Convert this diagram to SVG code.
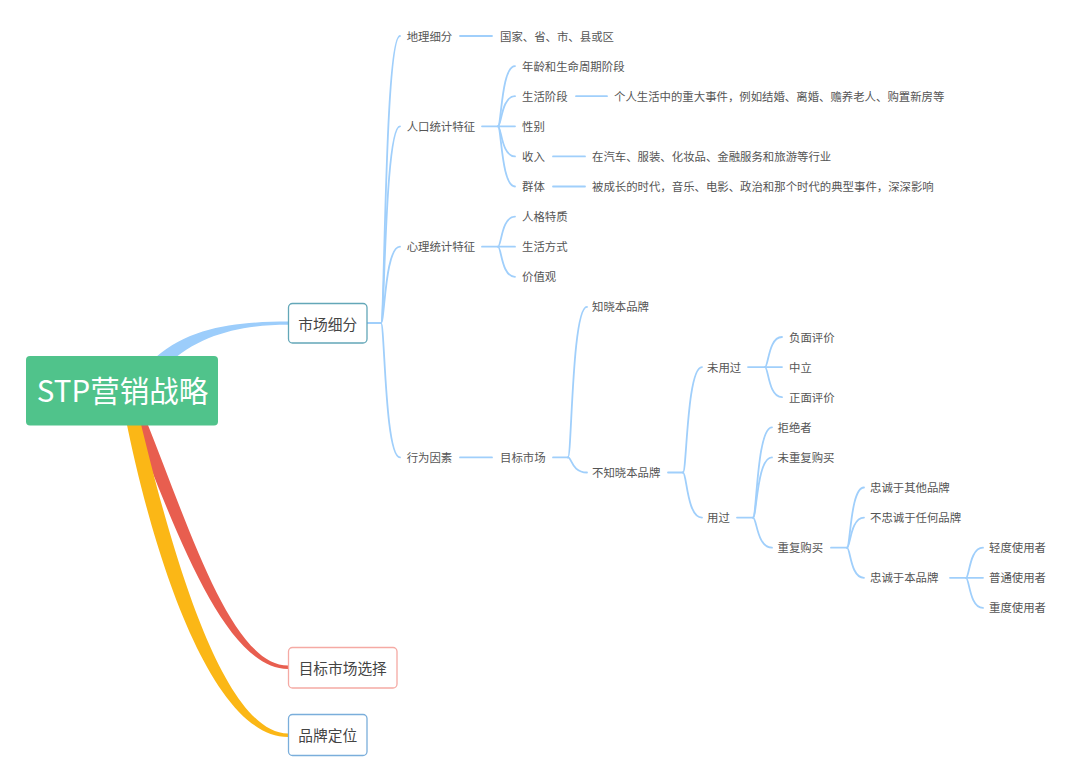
<svg xmlns="http://www.w3.org/2000/svg" width="1080" height="782" viewBox="0 0 1080 782">
<style>
.ln{fill:none;stroke:#a0cffb;stroke-width:1.8;stroke-linecap:round}
.t{font-family:"Noto Sans CJK SC","Microsoft YaHei",sans-serif;font-size:11.4px;fill:#555}
.nt{font-family:"Noto Sans CJK SC","Microsoft YaHei",sans-serif;font-size:14.7px;fill:#444}
.box{fill:#fff;stroke-width:1.3}
</style>
<rect width="1080" height="782" fill="#fff"/>
<g id="connectors">
  <path d="M156,357 C192,326 240,321.6 288,321.6 L288,324.8 C242,324.8 200,334 167,365 Z" fill="#9ccdfb"/>
  <path d="M146,420 C190,530 232,665.5 288,665.5 L288,669 C226,669 177,535 132,420 Z" fill="#e85e4f"/>
  <path d="M140,420 C169,540 221,733 288,733.5 L288,737 C209,737 151,545 126,420 Z" fill="#fbb716"/>
  <path class="ln" d="M367,323 H381"/>
  <path class="ln" d="M381,323 C384.8,323 384.8,36 400,36"/>
  <path class="ln" d="M381,323 C384.8,323 384.8,126.3 400,126.3"/>
  <path class="ln" d="M381,323 C384.8,323 384.8,246.7 400,246.7"/>
  <path class="ln" d="M381,323 C384.8,323 384.8,457.4 400,457.4"/>
  <path class="ln" d="M460,36 H492"/>
  <path class="ln" d="M482,126.3 H515"/>
  <path class="ln" d="M498,126.3 C501.4,126.3 501.4,66.1 515,66.1"/>
  <path class="ln" d="M498,126.3 C501.4,126.3 501.4,96.2 515,96.2"/>
  <path class="ln" d="M498,126.3 C501.4,126.3 501.4,156.4 515,156.4"/>
  <path class="ln" d="M498,126.3 C501.4,126.3 501.4,186.5 515,186.5"/>
  <path class="ln" d="M576,96.2 H607"/>
  <path class="ln" d="M553,156.4 H585"/>
  <path class="ln" d="M553,186.5 H585"/>
  <path class="ln" d="M482,246.7 H515"/>
  <path class="ln" d="M498,246.7 C501.4,246.7 501.4,216.6 515,216.6"/>
  <path class="ln" d="M498,246.7 C501.4,246.7 501.4,276.8 515,276.8"/>
  <path class="ln" d="M460,457.4 H492"/>
  <path class="ln" d="M553,457.4 H568"/>
  <path class="ln" d="M568,457.4 C571.8,457.4 571.8,306.9 587,306.9"/>
  <path class="ln" d="M568,457.4 C571.8,457.4 571.8,472.5 587,472.5"/>
  <path class="ln" d="M668,472.5 H683"/>
  <path class="ln" d="M683,472.5 C686.8,472.5 686.8,367.1 702,367.1"/>
  <path class="ln" d="M683,472.5 C686.8,472.5 686.8,517.6 702,517.6"/>
  <path class="ln" d="M748,367.1 H782"/>
  <path class="ln" d="M765,367.1 C768.4,367.1 768.4,337 782,337"/>
  <path class="ln" d="M765,367.1 C768.4,367.1 768.4,397.2 782,397.2"/>
  <path class="ln" d="M737,517.6 H753"/>
  <path class="ln" d="M753,517.6 C756.8,517.6 756.8,427.3 772,427.3"/>
  <path class="ln" d="M753,517.6 C756.8,517.6 756.8,457.4 772,457.4"/>
  <path class="ln" d="M753,517.6 C756.8,517.6 756.8,547.7 772,547.7"/>
  <path class="ln" d="M831,547.7 H847"/>
  <path class="ln" d="M847,547.7 C850.4,547.7 850.4,487.5 864,487.5"/>
  <path class="ln" d="M847,547.7 C850.4,547.7 850.4,517.6 864,517.6"/>
  <path class="ln" d="M847,547.7 C850.4,547.7 850.4,577.8 864,577.8"/>
  <path class="ln" d="M950,577.8 H983"/>
  <path class="ln" d="M966,577.8 C969.4,577.8 969.4,547.7 983,547.7"/>
  <path class="ln" d="M966,577.8 C969.4,577.8 969.4,607.9 983,607.9"/>
</g>
<g id="root">
  <rect x="26" y="356" width="192" height="69.5" rx="4" fill="#50c38b"/>
  <text x="122.5" y="401.5" text-anchor="middle" font-family="'Noto Sans CJK SC','Microsoft YaHei',sans-serif" font-size="29.5" fill="#fff">STP营销战略</text>
</g>
<g id="n-scxf">
  <rect class="box" x="288.5" y="303.5" width="78.5" height="39.5" rx="4" stroke="#63a7b8"/>
  <text class="nt" x="327.7" y="329.6" text-anchor="middle">市场细分</text>
</g>
<g id="n-mbscxz">
  <rect class="box" x="288.5" y="647.5" width="108.5" height="40.5" rx="4" stroke="#f5aaa4"/>
  <text class="nt" x="342.7" y="673.8" text-anchor="middle">目标市场选择</text>
</g>
<g id="n-ppdw">
  <rect class="box" x="288.5" y="714.5" width="78.5" height="41" rx="4" stroke="#7aaedb"/>
  <text class="nt" x="327.7" y="741.1" text-anchor="middle">品牌定位</text>
</g>
<g transform="translate(0,0.6)">
<g id="n-dlxf"><text class="t" x="406.7" y="40">地理细分</text></g>
<g id="n-gj"><text class="t" x="500" y="40">国家、省、市、县或区</text></g>
<g id="n-rk"><text class="t" x="406.7" y="130.3">人口统计特征</text></g>
<g id="n-nl"><text class="t" x="522" y="70.1">年龄和生命周期阶段</text></g>
<g id="n-shjd"><text class="t" x="522" y="100.2">生活阶段</text></g>
<g id="n-shjd-d"><text class="t" x="614" y="100.2">个人生活中的重大事件，例如结婚、离婚、赡养老人、购置新房等</text></g>
<g id="n-xb"><text class="t" x="522" y="130.3">性别</text></g>
<g id="n-sr"><text class="t" x="522" y="160.4">收入</text></g>
<g id="n-sr-d"><text class="t" x="592" y="160.4">在汽车、服装、化妆品、金融服务和旅游等行业</text></g>
<g id="n-qt"><text class="t" x="522" y="190.5">群体</text></g>
<g id="n-qt-d"><text class="t" x="592" y="190.5">被成长的时代，音乐、电影、政治和那个时代的典型事件，深深影响</text></g>
<g id="n-xl"><text class="t" x="406.7" y="250.7">心理统计特征</text></g>
<g id="n-rgtz"><text class="t" x="522" y="220.6">人格特质</text></g>
<g id="n-shfs"><text class="t" x="522" y="250.7">生活方式</text></g>
<g id="n-jzg"><text class="t" x="522" y="280.8">价值观</text></g>
<g id="n-xwys"><text class="t" x="406.7" y="461.4">行为因素</text></g>
<g id="n-mbsc"><text class="t" x="500" y="461.4">目标市场</text></g>
<g id="n-zx"><text class="t" x="592" y="310.9">知晓本品牌</text></g>
<g id="n-bzx"><text class="t" x="592" y="476.5">不知晓本品牌</text></g>
<g id="n-wyg"><text class="t" x="707" y="371.1">未用过</text></g>
<g id="n-fmpj"><text class="t" x="789" y="341">负面评价</text></g>
<g id="n-zl"><text class="t" x="789" y="371.1">中立</text></g>
<g id="n-zmpj"><text class="t" x="789" y="401.2">正面评价</text></g>
<g id="n-yg"><text class="t" x="707" y="521.6">用过</text></g>
<g id="n-jjz"><text class="t" x="777.5" y="431.3">拒绝者</text></g>
<g id="n-wcfgm"><text class="t" x="777.5" y="461.4">未重复购买</text></g>
<g id="n-cfgm"><text class="t" x="777.5" y="551.7">重复购买</text></g>
<g id="n-zcqt"><text class="t" x="870" y="491.5">忠诚于其他品牌</text></g>
<g id="n-bzc"><text class="t" x="870" y="521.6">不忠诚于任何品牌</text></g>
<g id="n-zcb"><text class="t" x="870" y="581.8">忠诚于本品牌</text></g>
<g id="n-qd"><text class="t" x="989" y="551.7">轻度使用者</text></g>
<g id="n-pt"><text class="t" x="989" y="581.8">普通使用者</text></g>
<g id="n-zd"><text class="t" x="989" y="611.9">重度使用者</text></g>
</g>
</svg>
